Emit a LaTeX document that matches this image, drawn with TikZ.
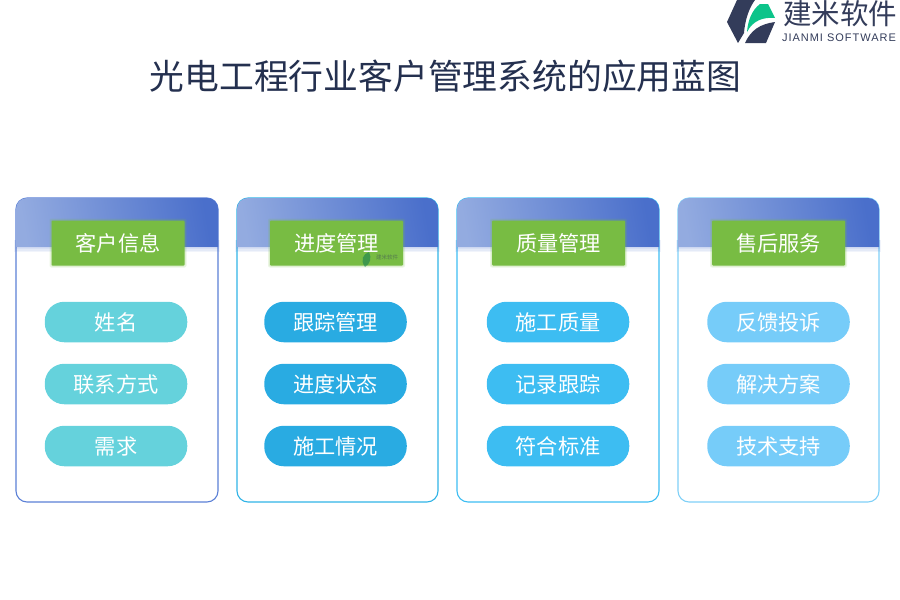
\documentclass[tikz,border=0pt]{standalone}
\usepackage{fontspec}
\newfontfamily\cjk{Noto Sans CJK SC}
\newfontfamily\logofont[LetterSpace=9]{Liberation Sans}
\usetikzlibrary{positioning}
\definecolor{inkblue}{HTML}{24304F}
\definecolor{logodark}{HTML}{333C5A}
\definecolor{logogreen}{HTML}{0CC48A}
\definecolor{headlight}{HTML}{93ABE0}
\definecolor{headdark}{HTML}{4A6FCB}
\definecolor{tagreen}{HTML}{78BC43}
\definecolor{pilla}{HTML}{65D2DC}
\definecolor{pillb}{HTML}{29ABE2}
\definecolor{pillc}{HTML}{3DBDF2}
\definecolor{pilld}{HTML}{76CCF9}
\definecolor{framea}{HTML}{5B80D6}
\definecolor{frameb}{HTML}{2FB3E6}
\definecolor{framec}{HTML}{3DBDF2}
\definecolor{framed}{HTML}{7FD0F7}
\tikzset{
	pill/.style={rounded corners=19.5pt,minimum width=142.5pt,minimum height=40.5pt,inner sep=0pt,text=white,font=\cjk\fontsize{21.2}{24}\selectfont},
	tagbox/.style={fill=tagreen,rounded corners=1pt,minimum width=133pt,minimum height=45pt,inner sep=0pt,text=white,font=\cjk\fontsize{21.2}{24}\selectfont},
	frame/.style={line width=1.1pt,rounded corners=11pt}
}
\begin{document}
\begin{tikzpicture}[x=1pt,y=-1pt]
	\useasboundingbox (0,0) rectangle (900,600);
	% logo
	\fill[logodark] (737,0)--(755,0) .. controls (749,8) and (745,20) .. (744,33)--(738,43)--(727,22)--cycle;
	\fill[logodark] (745,43) .. controls (751,30) and (760,24) .. (775,22)--(766,43)--cycle;
	\fill[logogreen] (747,32) .. controls (748,20) and (752,10) .. (760,4)--(768,4)--(775,18) .. controls (764,17) and (753,20) .. (747,32)--cycle;
	\node[text=logodark,inner sep=0pt,font=\cjk\fontsize{28.5}{30}\selectfont] (logoname) at (840,14) {建米软件};
	\node[text=logodark,inner sep=0pt,font=\logofont\fontsize{11}{12}\selectfont] (logoen) at (839,38) {JIANMI SOFTWARE};
	% title
	\node[text=inkblue,inner sep=0pt,font=\cjk\fontsize{34.8}{38}\selectfont] (title) at (445.5,76) {光电工程行业客户管理系统的应用蓝图};
	% cards
	\foreach \n/\l/\r/\t/\p/\f/\c/\A/\B/\C/\D in {
		1/16/218/118/116/framea/pilla/客户信息/姓名/联系方式/需求,
		2/237/438/336.5/335.5/frameb/pillb/进度管理/跟踪管理/进度状态/施工情况,
		3/457/659/558.5/558/framec/pillc/质量管理/施工质量/记录跟踪/符合标准,
		4/678/879/778.5/778.5/framed/pilld/售后服务/反馈投诉/解决方案/技术支持}{
		\draw[frame,draw=\f] (\l,198) rectangle (\r,502);
		% soft edge under the head
		\foreach \g in {6,4.5,3,1.5}
			\fill[headdark,opacity=0.08] (\l-\g*0.3,240) rectangle (\r+\g*0.3,246+\g);
		\begin{scope}
			\clip (\l-1,197) rectangle (\r+1,246);
			\shade[left color=headlight,right color=headdark,shading angle=100,rounded corners=11pt] (\l,198) rectangle (\r,270);
		\end{scope}
		\foreach \g in {2,1}
			\fill[tagreen,opacity=0.15,rounded corners=2pt] (\t-66.5-\g,220.5-\g) rectangle (\t+66.5+\g,265.5+\g);
		\node[tagbox] (tag\n) at (\t,243) {\A};
		\node[pill,fill=\c] (name\n) at (\p,322) {\B};
		\node[pill,fill=\c] (mid\n) at (\p,384) {\C};
		\node[pill,fill=\c] (last\n) at (\p,446) {\D};
	}
	% small mark on the second tag
	\fill[logogreen!60!black,opacity=0.5] (365,267) .. controls (360,260) and (363,254) .. (369,252) .. controls (372,258) and (370,264) .. (365,267)--cycle;
	\node[text=logodark,opacity=0.5,inner sep=0pt,font=\cjk\fontsize{5.5}{6}\selectfont] (markname) at (387,257) {建米软件};
\end{tikzpicture}
\end{document}
